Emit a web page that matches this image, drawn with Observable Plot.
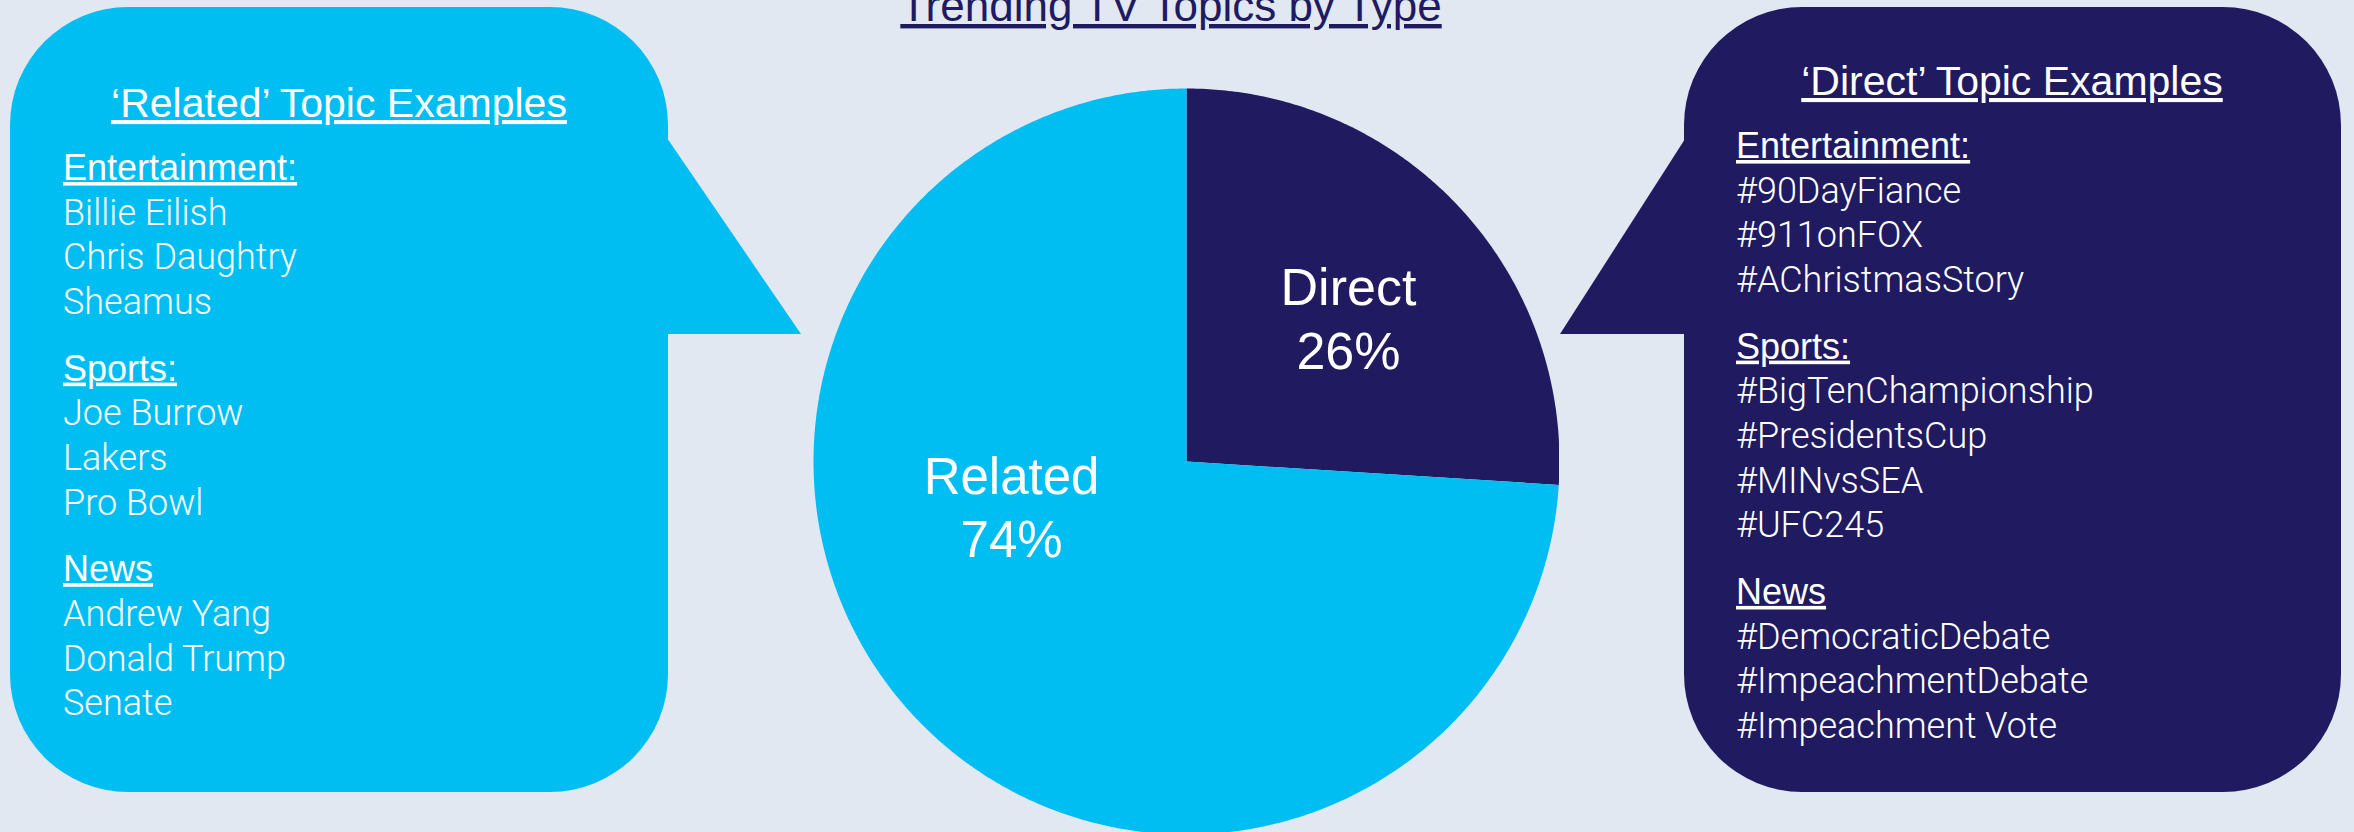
<!DOCTYPE html>
<html><head><meta charset="utf-8">
<script src="https://cdn.jsdelivr.net/npm/d3@7"></script>
<script src="https://cdn.jsdelivr.net/npm/@observablehq/plot@0.6"></script>
<style>
html,body{margin:0;padding:0;background:#E1E8F2;}
#stage{position:relative;width:2354px;height:832px;overflow:hidden;background:#E1E8F2;font-family:"Liberation Sans",Arial,sans-serif;}
#overlay{position:absolute;left:0;top:0;}
#pie{position:absolute;left:813px;top:88px;}
</style></head>
<body><div id="stage"><svg id="overlay" width="2354" height="832"></svg><div id="pie"></div></div>
<script>
const chartTitle = "Trending TV Topics by Type";
const slices = ["Direct", "Related"];
const shares = [26, 74];
const groupNames = ["Entertainment:", "Sports:", "News"];
const relatedTitle = "\u2018Related\u2019 Topic Examples";
const relatedEntertainment = ["Billie Eilish", "Chris Daughtry", "Sheamus"];
const relatedSports = ["Joe Burrow", "Lakers", "Pro Bowl"];
const relatedNews = ["Andrew Yang", "Donald Trump", "Senate"];
const directTitle = "\u2018Direct\u2019 Topic Examples";
const directEntertainment = ["#90DayFiance", "#911onFOX", "#AChristmasStory"];
const directSports = ["#BigTenChampionship", "#PresidentsCup", "#MINvsSEA", "#UFC245"];
const directNews = ["#DemocraticDebate", "#ImpeachmentDebate", "#Impeachment Vote"];

const NAVY = "#201A60", CYAN = "#00BEF2";
const HEAD_FONT = '"Liberation Sans", Arial, sans-serif';
const BODY_FONT = 'Roboto, "Liberation Sans", Arial, sans-serif';

// ---------- overlay: title + callouts ----------
const svg = d3.select("#overlay");
svg.append("text").attr("x", 1171).attr("y", 21).attr("text-anchor", "middle")
  .attr("font-family", HEAD_FONT).attr("font-size", 44).attr("fill", NAVY)
  .style("text-decoration", "underline").text(chartTitle);

function callout(box, pointer, fill, titleText, titleX, titleY, textX, groups) {
  const g = svg.append("g");
  g.append("rect").attr("x", box[0]).attr("y", box[1]).attr("width", box[2] - box[0])
    .attr("height", box[3] - box[1]).attr("rx", 118).attr("ry", 118).attr("fill", fill);
  g.append("polygon").attr("points", pointer.map(p => p.join(",")).join(" ")).attr("fill", fill);
  g.append("text").attr("x", titleX).attr("y", titleY).attr("text-anchor", "middle")
    .attr("font-family", HEAD_FONT).attr("font-size", 41).attr("fill", "white")
    .style("text-decoration", "underline").text(titleText);
  const step = 44.7, gap = 21.8;
  let y = titleY + 63;
  groups.forEach((items, gi) => {
    g.append("text").attr("x", textX).attr("y", y).attr("font-family", HEAD_FONT)
      .attr("font-size", 36).attr("fill", "white").style("text-decoration", "underline")
      .text(groupNames[gi]);
    items.forEach(t => {
      y += step;
      g.append("text").attr("x", textX).attr("y", y).attr("font-family", BODY_FONT)
        .attr("font-weight", 300).attr("font-size", 36).attr("fill", "white").text(t);
    });
    y += step + gap;
  });
}
callout([10, 7, 668, 792], [[667, 138], [801, 334], [667, 334]], CYAN,
  relatedTitle, 339, 117, 63, [relatedEntertainment, relatedSports, relatedNews]);
callout([1684, 7, 2341, 792], [[1685, 139], [1560, 334], [1685, 334]], NAVY,
  directTitle, 2012, 95, 1736, [directEntertainment, directSports, directNews]);

// ---------- pie with Plot ----------
const arcs = d3.pie().sort(null)(shares);
const pts = [];
arcs.forEach((a, i) => {
  const n = Math.max(2, Math.ceil((a.endAngle - a.startAngle) / (Math.PI / 360)));
  pts.push({slice: slices[i], x: 0, y: 0});
  for (let k = 0; k <= n; k++) {
    const t = a.startAngle + (a.endAngle - a.startAngle) * k / n;
    pts.push({slice: slices[i], x: Math.sin(t), y: Math.cos(t)});
  }
});
const labels = arcs.map((a, i) => {
  const m = (a.startAngle + a.endAngle) / 2;
  return {slice: slices[i], share: shares[i], x: 0.5 * Math.sin(m), y: 0.5 * Math.cos(m)};
});
const labelText = d => `${d.slice}\n${d.share}%`;
const chart = Plot.plot({
  width: 746, height: 746, margin: 0,
  x: {domain: [-1, 1], axis: null},
  y: {domain: [-1, 1], axis: null},
  color: {domain: slices, range: [NAVY, CYAN]},
  style: {background: "transparent", fontFamily: HEAD_FONT},
  marks: [
    Plot.line(pts, {x: "x", y: "y", z: "slice", fill: "slice", stroke: "none"}),
    Plot.text(labels.filter(d => d.slice === "Direct"), {x: "x", y: "y", text: labelText,
      dx: 26, dy: -17, fill: "white", fontSize: 52, lineHeight: 1.23, fontFamily: HEAD_FONT}),
    Plot.text(labels.filter(d => d.slice === "Related"), {x: "x", y: "y", text: labelText,
      dx: -39, dy: -84, fill: "white", fontSize: 51, lineHeight: 1.23, fontFamily: HEAD_FONT})
  ]
});
document.getElementById("pie").appendChild(chart);
</script>
</body></html>
